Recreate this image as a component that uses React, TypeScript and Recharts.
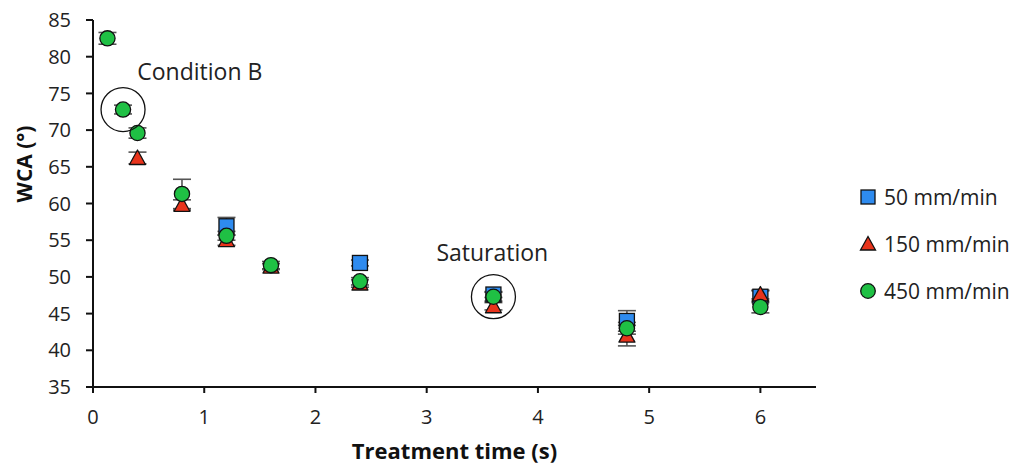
import React from "react";
import {
  ScatterChart,
  Scatter,
  XAxis,
  YAxis,
  ErrorBar,
  ReferenceDot,
} from "recharts";

const blueX = [1.2, 2.4, 3.6, 4.8, 6];
const blueY = [56.9, 51.9, 47.6, 44.0, 47.3];
const blueErr = [1.2, 0.4, 0.4, 1.4, 0.8];

const redX = [0.4, 0.8, 1.2, 1.6, 2.4, 3.6, 4.8, 6];
const redY = [66.2, 59.8, 55.0, 51.4, 49.1, 46.0, 42.0, 47.6];
const redErr = [0.8, 0.7, 0.7, 0.4, 0.5, 0.5, 1.4, 0.6];

const greenX = [0.13, 0.27, 0.4, 0.8, 1.2, 1.6, 2.4, 3.6, 4.8, 6];
const greenY = [82.5, 72.8, 69.6, 61.3, 55.6, 51.6, 49.4, 47.3, 43.0, 45.9];
const greenErr = [0.8, 0.6, 0.7, 2.0, 0.6, 0.5, 0.5, 0.6, 0.8, 0.8];

const xTicks = [0, 1, 2, 3, 4, 5, 6];
const yTicks = [35, 40, 45, 50, 55, 60, 65, 70, 75, 80, 85];

const seriesNames = ["50 mm/min", "150 mm/min", "450 mm/min"];
const BLUE = "#2E8BEF";
const RED = "#E8341C";
const GREEN = "#1FC044";

const FONT = "'Open Sans', Lato, sans-serif";

const mk = (xs: number[], ys: number[], es: number[]) =>
  xs.map((x, i) => ({ x, y: ys[i], err: es[i] }));

const blueData = mk(blueX, blueY, blueErr);
const redData = mk(redX, redY, redErr);
const greenData = mk(greenX, greenY, greenErr);

const Square = (props: any) => {
  const { cx, cy } = props;
  if (cx == null || cy == null) return null;
  return <rect x={cx - 7.5} y={cy - 7.5} width={15} height={15} fill={BLUE} stroke="#111" strokeWidth={1.3} />;
};
const Tri = (props: any) => {
  const { cx, cy } = props;
  if (cx == null || cy == null) return null;
  return (
    <polygon
      points={`${cx},${cy - 8} ${cx + 8},${cy + 6.5} ${cx - 8},${cy + 6.5}`}
      fill={RED}
      stroke="#111"
      strokeWidth={1.3}
      strokeLinejoin="round"
    />
  );
};
const Circ = (props: any) => {
  const { cx, cy } = props;
  if (cx == null || cy == null) return null;
  return <circle cx={cx} cy={cy} r={7.6} fill={GREEN} stroke="#111" strokeWidth={1.3} />;
};
const Empty = () => <g />;

const legendShapes = [
  (x: number, y: number) => <rect x={x - 7} y={y - 7} width={14} height={14} fill={BLUE} stroke="#111" strokeWidth={1.3} />,
  (x: number, y: number) => (
    <polygon points={`${x},${y - 7.5} ${x + 7.5},${y + 6} ${x - 7.5},${y + 6}`} fill={RED} stroke="#111" strokeWidth={1.3} />
  ),
  (x: number, y: number) => <circle cx={x} cy={y} r={7.3} fill={GREEN} stroke="#111" strokeWidth={1.3} />,
];

const LegendBox = () => (
  <svg width={164} height={150} style={{ position: "absolute", left: 850, top: 171 }}>
    {seriesNames.map((n, i) => (
      <g key={n}>
        {legendShapes[i](10, 22 + i * 47)}
        <text x={26} y={22 + i * 47} dominantBaseline="central" fontSize={21} fontFamily={FONT} fill="#222">
          {n}
        </text>
      </g>
    ))}
  </svg>
);

const eb = { direction: "y" as const, width: 9, stroke: "#555", strokeWidth: 1.6 };

export default function App() {
  return (
    <div style={{ position: "relative", width: 1016, height: 460, marginTop: -4 }}>
      <ScatterChart
        width={1016}
        height={464}
        margin={{ top: 16, right: 208, bottom: 0, left: 0 }}
      >
        <XAxis
          type="number"
          dataKey="x"
          domain={[0, 6.5]}
          ticks={xTicks}
          interval={0}
          allowDataOverflow
          height={81}
          tickSize={6}
          tickMargin={17}
          axisLine={{ stroke: "#111", strokeWidth: 2 }}
          tickLine={{ stroke: "#111", strokeWidth: 2 }}
          tick={{ fill: "#222", fontSize: 20, fontFamily: FONT }}
          label={{
            value: "Treatment time (s)",
            position: "insideBottom",
            offset: 9,
            style: { fill: "#111", fontSize: 22, fontWeight: 700, fontFamily: FONT },
          }}
        />
        <YAxis
          type="number"
          dataKey="y"
          domain={[35, 85]}
          ticks={yTicks}
          interval={0}
          width={85}
          tickSize={7}
          tickMargin={15}
          axisLine={{ stroke: "#111", strokeWidth: 2 }}
          tickLine={{ stroke: "#111", strokeWidth: 2 }}
          tick={{ fill: "#222", fontSize: 20, fontFamily: FONT }}
          label={{
            content: () => {
              const x = 16;
              const y = 160;
              return (
                <text
                  x={x}
                  y={y}
                  transform={`rotate(-90 ${x} ${y})`}
                  textAnchor="middle"
                  dominantBaseline="central"
                  fontSize={21}
                  fontWeight={700}
                  fontFamily={FONT}
                  fill="#111"
                >
                  WCA (°)
                </text>
              );
            },
          }}
        />
        <Scatter name="e1" data={blueData} shape={<Empty />} isAnimationActive={false}>
          <ErrorBar dataKey="err" {...eb} />
        </Scatter>
        <Scatter name="e2" data={redData} shape={<Empty />} isAnimationActive={false}>
          <ErrorBar dataKey="err" {...eb} />
        </Scatter>
        <Scatter name="e3" data={greenData} shape={<Empty />} isAnimationActive={false}>
          <ErrorBar dataKey="err" {...eb} />
        </Scatter>
        <Scatter name={seriesNames[0]} data={blueData} shape={<Square />} isAnimationActive={false} />
        <Scatter name={seriesNames[1]} data={redData} shape={<Tri />} isAnimationActive={false} />
        <Scatter name={seriesNames[2]} data={greenData} shape={<Circ />} isAnimationActive={false} />
        <ReferenceDot x={0.27} y={72.8} r={22} fill="none" stroke="#111" strokeWidth={1.3} ifOverflow="visible" />
        <ReferenceDot x={3.6} y={47.3} r={22} fill="none" stroke="#111" strokeWidth={1.3} ifOverflow="visible" />
        <ReferenceDot
          x={0.96}
          y={77.9}
          r={0}
          fill="none"
          stroke="none"
          ifOverflow="visible"
          label={{ value: "Condition B", position: "center", style: { fill: "#222", fontSize: 23, fontFamily: FONT } }}
        />
        <ReferenceDot
          x={3.59}
          y={53.3}
          r={0}
          fill="none"
          stroke="none"
          ifOverflow="visible"
          label={{ value: "Saturation", position: "center", style: { fill: "#222", fontSize: 23, fontFamily: FONT } }}
        />
      </ScatterChart>
      <LegendBox />
    </div>
  );
}
